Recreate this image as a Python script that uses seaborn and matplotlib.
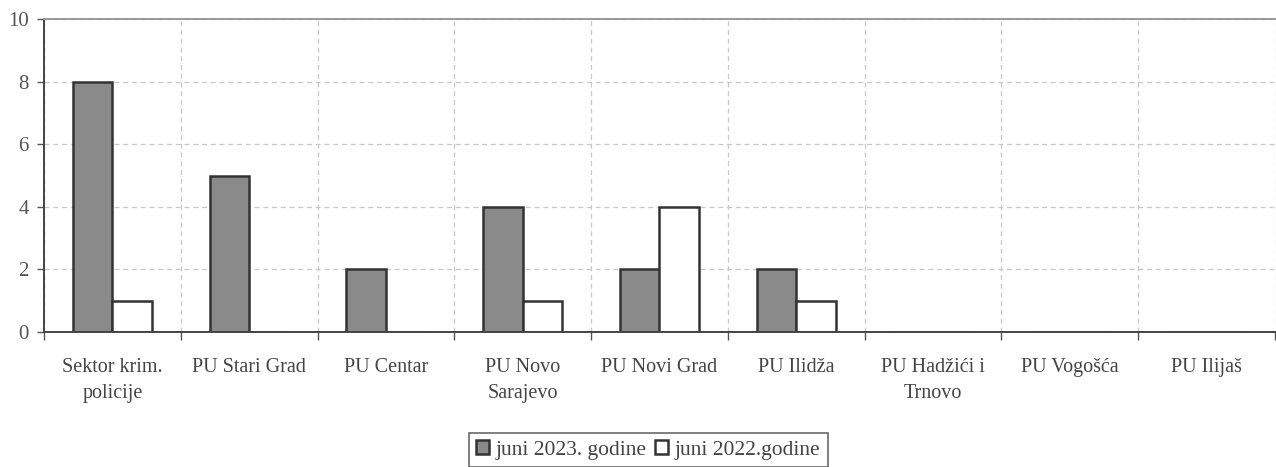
import numpy as np
import pandas as pd
import seaborn as sns
import matplotlib.pyplot as plt

# data
categories = ["Sektor krim.\npolicije", "PU Stari Grad", "PU Centar", "PU Novo\nSarajevo",
              "PU Novi Grad", "PU Ilidža", "PU Hadžići i\nTrnovo", "PU Vogošća", "PU Ilijaš"]
juni_2023 = [8, 5, 2, 4, 2, 2, 0, 0, 0]
juni_2022 = [1, 0, 0, 1, 4, 1, 0, 0, 0]
series = ["juni 2023. godine", "juni 2022.godine"]

df = pd.DataFrame({
    "kategorija": categories * 2,
    "broj": juni_2023 + juni_2022,
    "serija": [series[0]] * len(categories) + [series[1]] * len(categories),
})

sns.set_style("white")
plt.rcParams["font.family"] = ["Liberation Serif", "DejaVu Serif"]

fig = plt.figure(figsize=(12.76, 4.67), dpi=100)
ax = fig.add_axes([44 / 1276, 1 - 332 / 467, 1231 / 1276, 313 / 467])

sns.barplot(data=df, x="kategorija", y="broj", hue="serija", order=categories,
            hue_order=series, palette=["#8a8a8a", "#ffffff"], width=0.58,
            edgecolor="#333333", linewidth=1.8, saturation=1, ax=ax, legend=True)

ax.set_xlim(-0.5, len(categories) - 0.5)
ax.set_ylim(0, 10)
ax.set_yticks([0, 2, 4, 6, 8, 10])
ax.set_xlabel("")
ax.set_ylabel("")

# grid at category borders and at y ticks
ax.set_xticks(np.arange(len(categories) + 1) - 0.5, minor=True)
ax.grid(True, which="minor", axis="x", color="#c8c8c8", linestyle=(0, (4, 3)), linewidth=0.9)
ax.grid(True, which="major", axis="y", color="#c8c8c8", linestyle=(0, (4, 3)), linewidth=0.9)
ax.set_axisbelow(True)

ax.tick_params(axis="x", which="major", length=0, labelsize=14.5, pad=19, colors="#444444")
ax.tick_params(axis="x", which="minor", length=6, width=1, color="#555555", bottom=True)
ax.tick_params(axis="y", length=5, width=1, color="#555555", labelsize=15, labelcolor="#555555",
               left=True, pad=6)
for lab in ax.get_xticklabels():
    lab.set_linespacing(1.45)

for side in ["left", "bottom"]:
    ax.spines[side].set_color("#444444")
    ax.spines[side].set_linewidth(1.4)
ax.spines["top"].set_color("#999999")
ax.spines["top"].set_linewidth(1.4)
ax.spines["right"].set_visible(False)

ax.get_legend().remove()
handles, labels = ax.get_legend_handles_labels()
leg = fig.legend(handles, labels, loc="upper center", bbox_to_anchor=(0.508, 1 - 422 / 467),
                 ncol=2, frameon=True, fancybox=False, fontsize=15.5, handlelength=0.6,
                 handleheight=0.6, handletextpad=0.3, columnspacing=0.4, borderpad=0.35)
leg.get_frame().set_edgecolor("#444444")
leg.get_frame().set_linewidth(1.2)
for t in leg.get_texts():
    t.set_color("#444444")

plt.savefig("out.png", dpi=100)
